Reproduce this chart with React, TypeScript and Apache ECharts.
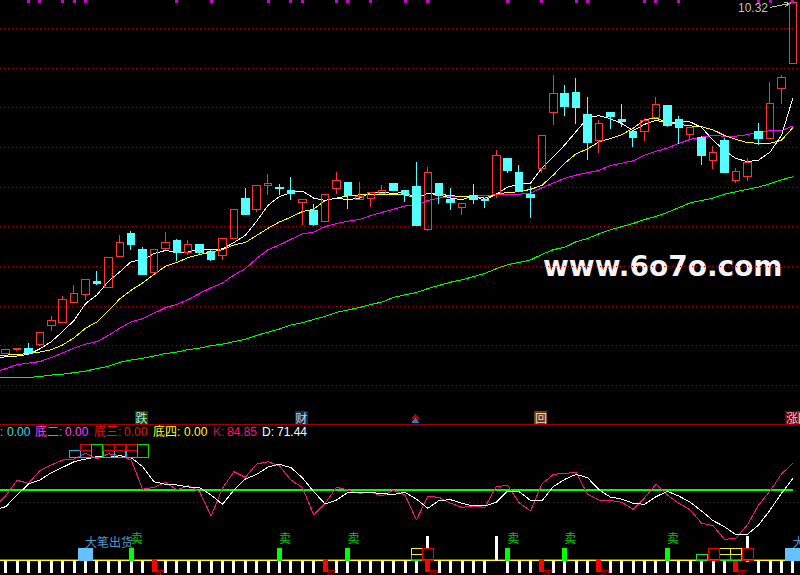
import React, { useEffect, useRef } from "react";
import * as echarts from "echarts";

const opens = [5.90,5.95,5.97,6.01,6.25,6.29,6.55,6.64,6.81,6.73,7.13,7.41,7.21,6.92,7.23,7.32,7.18,7.28,7.19,7.14,7.35,7.85,7.72,8.02,7.99,7.96,7.81,7.70,7.57,7.98,8.06,7.84,7.85,7.92,8.04,7.96,8.01,7.47,8.04,7.84,7.74,7.89,7.84,7.91,8.36,8.18,7.91,8.23,8.94,9.18,9.19,8.92,8.59,8.94,8.85,8.70,8.70,8.88,9.03,8.85,8.66,8.62,8.33,8.58,8.08,8.13,8.70,8.61,9.24,9.56];
const closes = [5.95,5.97,5.92,6.16,6.32,6.58,6.66,6.84,6.78,7.11,7.30,7.27,6.90,7.21,7.30,7.18,7.28,7.18,7.08,7.35,7.72,7.65,8.02,8.05,7.98,7.92,7.84,7.53,7.91,8.08,7.89,7.88,7.93,7.96,7.96,7.91,7.51,8.18,7.89,7.80,7.79,7.84,7.83,8.40,8.21,7.94,7.87,8.65,9.18,9.02,9.00,8.56,8.80,8.89,8.82,8.63,8.84,9.04,8.77,8.75,8.75,8.40,8.43,8.18,8.19,8.31,8.61,9.05,9.38,10.32];
const lows = [5.89,5.93,5.90,6.00,6.18,6.29,6.54,6.58,6.76,6.73,7.12,7.21,6.90,6.91,7.21,7.07,7.14,7.15,7.07,7.08,7.35,7.65,7.68,7.90,7.90,7.83,7.52,7.51,7.57,7.91,7.72,7.84,7.75,7.92,7.95,7.81,7.51,7.45,7.79,7.71,7.65,7.79,7.73,7.86,8.18,7.94,7.61,8.18,8.78,8.89,8.80,8.34,8.43,8.73,8.75,8.50,8.58,8.88,8.75,8.54,8.60,8.28,8.23,8.18,8.05,8.07,8.53,8.61,9.05,9.56];
const highs = [5.96,5.97,6.03,6.17,6.37,6.62,6.76,6.84,6.94,7.11,7.39,7.45,7.24,7.22,7.43,7.34,7.33,7.28,7.22,7.35,7.72,7.99,8.02,8.16,8.04,8.13,7.85,7.79,7.91,8.19,8.06,8.06,7.93,8.02,8.04,7.96,8.31,8.25,8.04,7.99,7.80,8.04,7.86,8.47,8.36,8.28,8.01,8.65,9.41,9.28,9.38,9.13,8.84,8.94,9.05,8.70,8.87,9.14,9.03,8.89,8.75,8.64,8.52,8.62,8.24,8.36,8.81,9.32,9.41,10.32];

const maWhite = [5.86,5.87,5.89,5.96,6.05,6.18,6.32,6.53,6.64,6.81,6.93,7.06,7.08,7.16,7.20,7.18,7.18,7.22,7.21,7.22,7.30,7.39,7.57,7.77,7.88,7.93,7.95,7.86,7.83,7.86,7.84,7.86,7.93,7.93,7.92,7.93,7.86,7.92,7.90,7.86,7.84,7.89,7.83,7.91,8.00,8.03,8.05,8.24,8.38,8.53,8.70,8.87,8.90,8.86,8.80,8.71,8.79,8.84,8.81,8.82,8.82,8.75,8.59,8.46,8.36,8.32,8.34,8.44,8.65,9.12];
const maYellow = [5.88,5.89,5.90,5.92,5.95,6.01,6.10,6.22,6.30,6.44,6.59,6.70,6.79,6.90,7.00,7.05,7.11,7.15,7.18,7.21,7.27,7.30,7.39,7.48,7.56,7.62,7.69,7.72,7.83,7.86,7.89,7.90,7.90,7.90,7.90,7.90,7.86,7.92,7.91,7.89,7.88,7.87,7.86,7.91,7.93,7.94,7.97,8.02,8.15,8.30,8.42,8.48,8.57,8.61,8.66,8.74,8.85,8.87,8.81,8.79,8.77,8.76,8.72,8.65,8.60,8.56,8.55,8.55,8.59,8.75];
const maMagenta = [5.71,5.76,5.78,5.80,5.85,5.91,5.97,6.02,6.05,6.13,6.22,6.30,6.34,6.41,6.48,6.52,6.58,6.66,6.73,6.79,6.89,6.97,7.10,7.21,7.27,7.34,7.41,7.43,7.50,7.54,7.57,7.59,7.64,7.68,7.72,7.76,7.77,7.83,7.86,7.88,7.88,7.89,7.89,7.90,7.91,7.91,7.92,7.99,8.05,8.11,8.15,8.18,8.21,8.27,8.30,8.33,8.40,8.45,8.49,8.55,8.60,8.63,8.65,8.64,8.64,8.66,8.69,8.71,8.71,8.77];
const maGreen = [5.60,5.60,5.60,5.61,5.63,5.64,5.66,5.68,5.71,5.74,5.79,5.82,5.84,5.87,5.90,5.92,5.95,5.97,6.00,6.02,6.05,6.08,6.13,6.17,6.21,6.26,6.29,6.33,6.37,6.42,6.45,6.48,6.52,6.55,6.61,6.64,6.67,6.72,6.76,6.80,6.83,6.87,6.91,6.97,7.02,7.05,7.08,7.15,7.21,7.24,7.31,7.35,7.41,7.46,7.50,7.54,7.59,7.63,7.68,7.74,7.80,7.83,7.86,7.91,7.94,7.97,8.00,8.04,8.09,8.13];

// value of each line at the left edge, where the line comes in from earlier bars
const maLeadWhite = 5.85;
const maLeadYellow = 5.87;
const maLeadMagenta = 5.69;
const maLeadGreen = 5.6;
const kLead = 50.5;
const dLead = 44.6;

const kValues = [55.9,69.6,67.0,78.3,83.4,87.8,88.7,93.8,88.7,93.5,91.7,87.8,61.6,63.4,67.9,61.0,64.9,59.5,37.7,62.5,77.4,72.3,84.3,86.3,82.5,69.9,63.4,38.6,49.1,63.4,61.0,58.0,58.9,55.6,60.7,56.5,34.2,55.3,54.4,49.1,45.5,46.7,45.5,64.0,65.2,49.7,42.2,66.4,75.0,75.9,76.8,57.1,52.0,51.7,50.0,43.7,54.1,66.1,56.5,49.1,43.1,31.2,29.1,16.9,17.8,29.7,47.6,60.1,75.3,84.85];
const dValues = [46.1,56.5,66.4,69.9,76.5,81.3,86.3,88.7,90.8,90.2,91.7,89.9,81.9,68.4,66.1,65.5,63.7,63.1,56.5,48.2,61.0,70.8,75.0,81.6,84.0,81.0,72.0,59.5,48.5,52.0,58.9,58.9,58.9,57.7,57.1,58.9,52.9,44.6,51.7,52.3,49.1,46.7,46.7,50.0,60.1,59.5,51.7,51.2,64.0,70.5,75.0,72.0,61.3,54.7,52.9,49.1,48.2,55.0,59.8,55.6,50.0,42.2,33.6,28.2,21.0,21.3,29.7,43.1,58.0,71.44];
const kdGreenLevel = 61.2;
const kdDottedLevel = 50;

const categories = opens.map((_, i) => String(i));

const topMarks = [2,3,5,6,7,15,18,23,25,26,29,30,32,35,37,44,47,50,51,56,57,59,66,67,69];
const sellIdx = [11,24,30,44,49,58];
const buyIdx = [13,28,37,47,52,64];
const blockIdx = [7,69];
const tallWhite = [[37,1,2],[43,-0.1,2],[65,1,2],[65,-0.15,0]];
const noTick = [13,28,37,43,47,52,64,65];

const boxCyan = [[6,8.54,9.07],[7,8.54,9.07],[9,8.54,9.07],[10,8.54,9.07],[11,8.54,9.07]];
const boxRedUpper = [[7,9.07,9.56],[9,9.07,9.56],[10,9.07,9.56],[11,9.07,9.56]];
const boxGreenUpper = [[8,8.54,9.56],[12,8.54,9.56]];
const boxYellowLower = [[36,0.5,1],[63,0.5,1],[64,0.5,1]];
const boxGreenLower = [[36,0,0.5],[61,0,0.5],[63,0,0.5],[64,0,0.5]];
const boxRedLower = [[37,0,1],[62,0,1],[65,0,1]];

const iconItems = [
  { i: 12, text: "跌", bg: "#006A10", dx: -1 },
  { i: 26, text: "财", bg: "#0E3D6E", dx: -1 },
  { i: 47, text: "回", bg: "#8B4A10", dx: -1 },
  { i: 69, text: "回", bg: "#8B4A10", dx: 11 },
  { i: 69, text: "涨", bg: "#8B0000", dx: -1 },
];
const iconPrice = 5.1;

const headerTexts = [
  { x: 0, text: ":", color: "#33DDEE" },
  { x: 7, text: "0.00", color: "#33DDEE" },
  { x: 35, text: "底二:", color: "#FF40FF" },
  { x: 65, text: "0.00", color: "#FF40FF" },
  { x: 94, text: "底三:", color: "#F01010" },
  { x: 124, text: "0.00", color: "#F01010" },
  { x: 153, text: "底四:", color: "#FFFF20" },
  { x: 184, text: "0.00", color: "#FFFF20" },
  { x: 213, text: "K:", color: "#C0106A" },
  { x: 227, text: "84.85", color: "#FF1080" },
  { x: 262, text: "D:", color: "#FFFFFF" },
  { x: 277, text: "71.44", color: "#FFFFFF" },
];

const FONT = '"Liberation Sans","Noto Sans CJK SC",sans-serif';
const CJK = '"Noto Sans CJK SC",sans-serif';

function rectSeries(data: number[][], fill: string, stroke: string | null, w: number, z = 5) {
  return {
    type: "custom",
    coordinateSystem: "cartesian2d",
    xAxisIndex: 1,
    yAxisIndex: 2,
    silent: true,
    clip: false,
    z,
    encode: { x: 0, y: [1, 2] },
    data,
    renderItem: (_: any, api: any) => {
      const a = api.coord([api.value(0), api.value(2)]);
      const b = api.coord([api.value(0), api.value(1)]);
      const off = stroke ? 0.5 : 0;
      const x = Math.round(a[0] - w / 2) + off;
      const y = Math.round(a[1]) + off;
      return {
        type: "rect",
        shape: { x, y, width: w, height: Math.max(1, Math.round(b[1]) + off - y) },
        style: { fill, stroke: stroke || undefined, lineWidth: stroke ? 1 : 0 },
      };
    },
  };
}

function labelSeries(idx: number[], level: number, text: string, color: string, z = 7) {
  return {
    type: "scatter",
    xAxisIndex: 1,
    yAxisIndex: 2,
    silent: true,
    clip: false,
    z,
    symbol: "circle",
    symbolSize: 1,
    itemStyle: { color: "transparent" },
    label: {
      show: true,
      position: "right",
      distance: -1,
      formatter: text,
      color,
      fontSize: 12,
      fontFamily: CJK,
    },
    data: idx.map((i) => [i, level]),
  };
}

function withLead(lead: number, values: number[]) {
  return [[-0.5, lead], ...values.map((v, i) => [i, v])];
}

function maSeries(lead: number, data: number[], color: string) {
  return {
    type: "line",
    xAxisIndex: 3,
    yAxisIndex: 0,
    data: withLead(lead, data),
    showSymbol: false,
    silent: true,
    z: 2,
    lineStyle: { color, width: 1 },
  };
}

export default function App() {
  const ref = useRef<HTMLDivElement>(null);
  useEffect(() => {
    document.body.style.margin = "0";
    document.body.style.background = "#000";
    const chart = echarts.init(ref.current!, null, { renderer: "svg" });
    const hiddenAxis = { show: false };
    chart.setOption({
      animation: false,
      backgroundColor: "#000000",
      grid: [
        { left: -1.4, top: 0, width: 800, height: 425 },
        { left: -1.4, top: 424, width: 800, height: 151 },
      ],
      xAxis: [
        { type: "category", gridIndex: 0, data: categories, ...hiddenAxis },
        {
          type: "category",
          gridIndex: 1,
          data: categories,
          position: "top",
          axisLine: { show: true, onZero: false, lineStyle: { color: "#A00000", width: 1 } },
          axisTick: { show: false },
          axisLabel: { show: false },
          splitLine: { show: false },
        },
        { type: "value", gridIndex: 1, min: -0.5, max: 69.5, ...hiddenAxis },
        { type: "value", gridIndex: 0, min: -0.5, max: 69.5, ...hiddenAxis },
      ],
      yAxis: [
        {
          type: "value",
          gridIndex: 0,
          min: 5,
          max: 10.357,
          interval: 0.5,
          axisLine: { show: false },
          axisTick: { show: false },
          axisLabel: { show: false },
          splitLine: {
            show: true,
            showMinLine: false,
            showMaxLine: false,
            lineStyle: { color: "#B00000", width: 1, type: [1, 3] },
          },
        },
        { type: "value", gridIndex: 1, min: -15.03, max: 120.04, ...hiddenAxis },
        { type: "value", gridIndex: 1, min: -1.24, max: 11.24, ...hiddenAxis },
      ],
      graphic: [
        ...headerTexts.map((t) => ({
          type: "text",
          x: t.x,
          y: 432,
          silent: true,
          style: { text: t.text, fill: t.color, font: `12px ${FONT}`, verticalAlign: "middle" },
        })),
        {
          type: "text",
          x: 738,
          y: 8,
          silent: true,
          style: { text: "10.32", fill: "#C0C0C0", font: `12px ${FONT}`, verticalAlign: "middle" },
        },
        {
          type: "line",
          silent: true,
          shape: { x1: 770, y1: 7.5, x2: 789, y2: 3.5 },
          style: { stroke: "#C0C0C0", lineWidth: 1 },
        },
        {
          type: "polyline",
          silent: true,
          shape: { points: [[784, 2], [790, 3.5], [785, 6.5]] },
          style: { stroke: "#C0C0C0", lineWidth: 1, fill: "none" },
        },
        {
          type: "text",
          x: 543,
          y: 266,
          silent: true,
          style: {
            text: "www.6o7o.com",
            fill: "#F4F4F4",
            font: 'bold 28px "DejaVu Sans",sans-serif',
            verticalAlign: "middle",
          },
        },
      ],
      series: [
        maSeries(maLeadGreen, maGreen, "#00FF00"),
        maSeries(maLeadMagenta, maMagenta, "#FF00FF"),
        maSeries(maLeadYellow, maYellow, "#FFFF00"),
        maSeries(maLeadWhite, maWhite, "#FFFFFF"),
        {
          type: "candlestick",
          xAxisIndex: 0,
          yAxisIndex: 0,
          silent: true,
          z: 3,
          barWidth: 8,
          clip: false,
          itemStyle: {
            color: "transparent",
            color0: "#54FFFF",
            borderColor: "#FF3232",
            borderColor0: "#54FFFF",
            borderWidth: 1,
          },
          data: opens.map((o, i) => [o, closes[i], lows[i], highs[i]]),
        },
        {
          type: "scatter",
          xAxisIndex: 0,
          yAxisIndex: 0,
          silent: true,
          z: 4,
          symbol: "rect",
          symbolSize: [3, 3],
          itemStyle: { color: "#FF00FF" },
          data: topMarks.map((i) => [i, 10.34]),
        },
        {
          type: "scatter",
          xAxisIndex: 0,
          yAxisIndex: 0,
          silent: true,
          z: 4,
          symbol: "rect",
          symbolSize: 13,
          data: iconItems.map((d) => ({
            value: [d.i, iconPrice],
            symbolOffset: [d.dx, 0],
            itemStyle: { color: d.bg },
            label: {
              show: true,
              position: "inside",
              formatter: d.text,
              color: "#FFFFFF",
              fontSize: 12,
              fontFamily: CJK,
            },
          })),
        },
        {
          type: "scatter",
          xAxisIndex: 0,
          yAxisIndex: 0,
          silent: true,
          z: 4,
          symbol: "triangle",
          symbolSize: [8, 5],
          symbolOffset: [-1, 0],
          itemStyle: { color: "#E00000" },
          data: [[36, 5.11]],
        },
        {
          type: "scatter",
          xAxisIndex: 0,
          yAxisIndex: 0,
          silent: true,
          z: 4,
          symbol: "triangle",
          symbolSize: [8, 5],
          symbolOffset: [-1, 0],
          itemStyle: { color: "#18A0FF" },
          data: [[36, 5.06]],
        },
        {
          type: "line",
          xAxisIndex: 2,
          yAxisIndex: 1,
          silent: true,
          showSymbol: false,
          z: 2,
          lineStyle: { color: "#00FF00", width: 2 },
          data: [[-0.5, kdGreenLevel], [68.97, kdGreenLevel]],
        },
        {
          type: "line",
          xAxisIndex: 2,
          yAxisIndex: 1,
          silent: true,
          showSymbol: false,
          z: 1,
          lineStyle: { color: "#B00000", width: 1, type: [1, 3] },
          data: [[1, kdDottedLevel], [69.5, kdDottedLevel]],
        },
        {
          type: "line",
          xAxisIndex: 2,
          yAxisIndex: 1,
          silent: true,
          showSymbol: false,
          z: 3,
          lineStyle: { color: "#FF1080", width: 1 },
          data: withLead(kLead, kValues),
        },
        {
          type: "line",
          xAxisIndex: 2,
          yAxisIndex: 1,
          silent: true,
          showSymbol: false,
          z: 3,
          lineStyle: { color: "#FFFFFF", width: 1 },
          data: withLead(dLead, dValues),
        },
        rectSeries(categories.map((_, i) => i).filter((i) => !noTick.includes(i)).map((i) => [i, -1.05, -0.05]), "#FFFFFF", null, 3, 2),
        {
          type: "line",
          xAxisIndex: 2,
          yAxisIndex: 2,
          silent: true,
          showSymbol: false,
          z: 3,
          lineStyle: { color: "#FFFF00", width: 1 },
          data: [[-0.5, -0.04], [69.5, -0.04]],
        },
        {
          type: "line",
          xAxisIndex: 2,
          yAxisIndex: 2,
          silent: true,
          showSymbol: false,
          z: 3,
          lineStyle: { color: "#FF2020", width: 1 },
          data: [[-0.5, 0.04], [69.5, 0.04]],
        },
        rectSeries(tallWhite, "#FFFFFF", null, 3),
        rectSeries(sellIdx.map((i) => [i, -0.05, 1]), "#00FF00", null, 5),
        rectSeries(buyIdx.map((i) => [i, -1, 0.05]), "#FF0000", null, 5),
        rectSeries(blockIdx.map((i) => [i, -0.05, 1]), "#66C2FF", null, 15),
        rectSeries(boxCyan, "transparent", "#20B0E8", 11),
        rectSeries(boxRedUpper, "transparent", "#E00000", 11),
        rectSeries(boxGreenUpper, "transparent", "#00E000", 11),
        rectSeries(boxGreenLower, "transparent", "#20E020", 11),
        rectSeries(boxYellowLower, "transparent", "#F0F020", 11),
        rectSeries(boxRedLower, "transparent", "#F00000", 11),
        labelSeries(sellIdx, 1.84, "卖", "#00FF00"),
        labelSeries(buyIdx, -1.16, "买", "#FF0000"),
        labelSeries(blockIdx, 1.49, "大笔出货", "#66C2FF"),
      ],
    });
    return () => chart.dispose();
  }, []);
  return (
    <>
      <style>{"svg path { shape-rendering: crispEdges; }"}</style>
      <div
        ref={ref}
        style={{ position: "fixed", left: 0, top: 0, width: 800, height: 575, background: "#000" }}
      />
    </>
  );
}
